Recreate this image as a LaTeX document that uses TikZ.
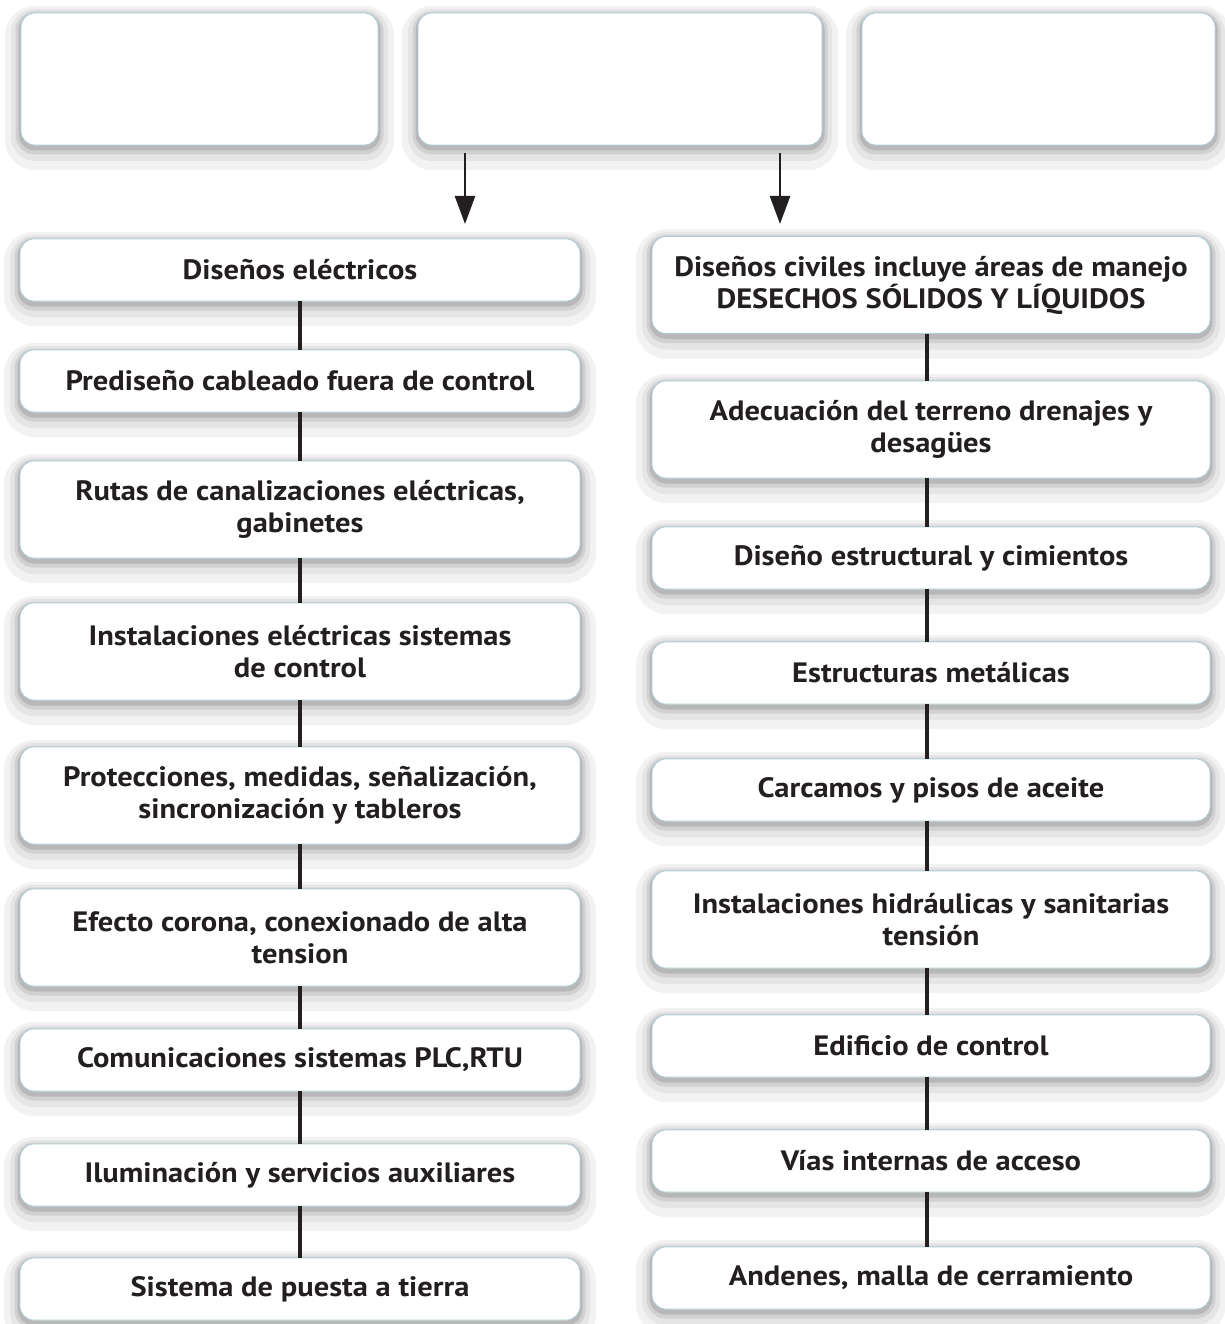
\documentclass[tikz,border=0pt]{standalone}
\usepackage{fontspec}
\setmainfont{PT Sans}[FakeStretch=1.09]
\usetikzlibrary{arrows.meta,calc}
\definecolor{txt}{HTML}{231F20}
\definecolor{edge}{HTML}{A9CCD9}
\tikzset{
  bx/.style={rounded corners=14pt, fill=white, draw=edge, line width=0.7pt,
    align=center, font=\bfseries\fontsize{28}{32}\selectfont, text=txt, inner sep=0pt,
    preaction={draw=black!5, line width=32pt, transform canvas={yshift=-9pt}},
    preaction={draw=black!10, line width=20pt, transform canvas={yshift=-6pt}},
    preaction={draw=black!18, line width=11pt, transform canvas={yshift=-4pt}},
    preaction={draw=black!28, line width=5pt, transform canvas={yshift=-3pt}}},
  lbx/.style={bx, minimum width=560pt},
  rbx/.style={bx, minimum width=558pt},
  one/.style={minimum height=62pt},
  two/.style={minimum height=97pt},
  conn/.style={draw=txt, line width=3.5pt},
  arr/.style={draw=txt, line width=2.5pt, -{Triangle[width=20pt,length=28pt]}}
}
\begin{document}
\begin{tikzpicture}[x=1pt,y=-1pt]
\fill[white] (0,0) rectangle (1225,1324);
\useasboundingbox (0,0) rectangle (1225,1324);
% top boxes
\node[bx, minimum width=357pt, minimum height=132pt] (t1) at (199.5,79) {};
\node[bx, minimum width=404pt, minimum height=132pt] (t2) at (620,79) {};
\node[bx, minimum width=353pt, minimum height=132pt] (t3) at (1038.5,79) {};
% left column
\node[lbx, one] (l1) at (300,270) {Diseños eléctricos};
\node[lbx, one] (l2) at (300,381) {Prediseño cableado fuera de control};
\node[lbx, two] (l3) at (300,509.5) {Rutas de canalizaciones eléctricas,\\gabinetes};
\node[lbx, two] (l4) at (300,651.5) {Instalaciones eléctricas sistemas\\de control};
\node[lbx, two] (l5) at (300,795.5) {Protecciones, medidas, señalización,\\sincronización y tableros};
\node[lbx, two] (l6) at (300,937.5) {Efecto corona, conexionado de alta\\tension};
\node[lbx, one] (l7) at (300,1060) {Comunicaciones sistemas PLC,RTU};
\node[lbx, one] (l8) at (300,1175) {Iluminación y servicios auxiliares};
\node[lbx, one] (l9) at (300,1289) {Sistema de puesta a tierra};
% right column
\node[rbx, two] (r1) at (931,285) {Diseños civiles incluye áreas de manejo\\DESECHOS SÓLIDOS Y LÍQUIDOS};
\node[rbx, two] (r2) at (931,429.5) {Adecuación del terreno drenajes y\\desagües};
\node[rbx, one] (r3) at (931,558) {Diseño estructural y cimientos};
\node[rbx, one] (r4) at (931,673) {Estructuras metálicas};
\node[rbx, one] (r5) at (931,790) {Carcamos y pisos de aceite};
\node[rbx, two] (r6) at (931,919.5) {Instalaciones hidráulicas y sanitarias\\tensión};
\node[rbx, one] (r7) at (931,1046) {Edificio de control};
\node[rbx, one] (r8) at (931,1161) {Vías internas de acceso};
\node[rbx, one] (r9) at (931,1278) {Andenes, malla de cerramiento};
% connectors
\foreach \a/\b in {l1/l2,l2/l3,l3/l4,l4/l5,l5/l6,l6/l7,l7/l8,l8/l9}
  \draw[conn] (\a.south) -- (\b.north);
\coordinate (rc) at (927,0);
\foreach \a/\b in {r1/r2,r2/r3,r3/r4,r4/r5,r5/r6,r6/r7,r7/r8,r8/r9}
  \draw[conn] (rc |- \a.south) -- (rc |- \b.north);
% arrows
\coordinate (la) at (465,224);
\coordinate (ra) at (780,224);
\draw[arr] ($(la |- t2.south)+(0,8)$) -- (la);
\draw[arr] ($(ra |- t2.south)+(0,8)$) -- (ra);
\end{tikzpicture}
\end{document}
